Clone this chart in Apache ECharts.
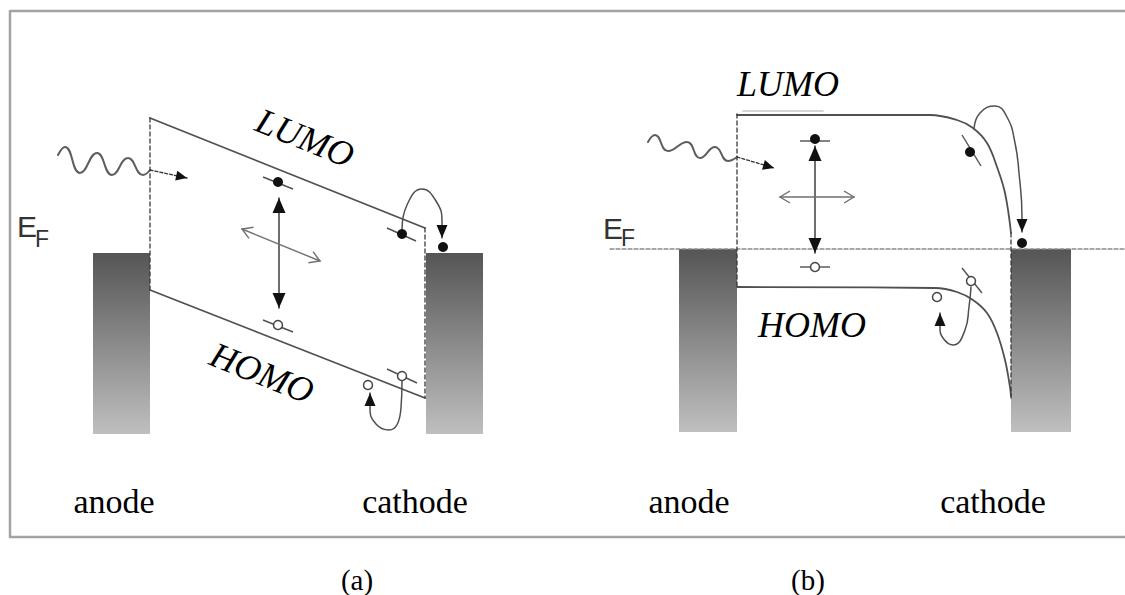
<!DOCTYPE html>
<html>
<head>
<meta charset="utf-8">
<script src="https://cdn.jsdelivr.net/npm/echarts@6/dist/echarts.min.js"></script>
<style>
  html, body { margin: 0; padding: 0; background: #fff; }
  #chart { width: 1125px; height: 595px; }
</style>
</head>
<body>
<div id="chart"></div>
<script>
// Energy-level diagrams of an organic photodiode:
// (a) straight tilted LUMO/HOMO levels, (b) flat levels bending down at the cathode.
// Diagram coordinates: x runs left to right across both panels, y runs top to bottom.

const frameEdge = [[1125, 11], [10, 11], [10, 537], [1125, 537]];

// electrode blocks: [left, top, right, bottom]
const electrodes = [
  [93, 253, 150, 434], [426, 253, 483, 434],
  [679, 249, 737, 432], [1011, 249, 1071, 432]
];

const lumoA = [[150, 118], [425, 228]];
const homoA = [[150, 290], [425, 398]];
const lumoB = [[737, 115], [930, 115], [957, 120], [973, 128], [987, 143], [997, 167], [1005, 193], [1011, 233]];
const homoB = [[737, 287], [935, 288], [957, 292], [973, 300], [987, 313], [997, 333], [1005, 360], [1010, 387], [1011, 396]];
const contactEdges = [
  [[150, 118], [150, 290]], [[425, 228], [425, 398]],
  [[737, 114], [737, 287]], [[1011, 233], [1011, 398]]
];
const fermiLevelB = [[610, 249], [1125, 249]];
const faintLevelB = [[743, 111], [823, 111]];

// incoming light
const photonA = [[58, 155], [65, 147], [80, 173], [97, 153], [112, 175], [128, 158], [143, 175], [150, 170]];
const photonB = [[648, 142], [655, 135], [668, 151], [687, 142], [700, 158], [715, 147], [728, 161], [737, 157]];
const photonTrails = [[[150, 170], [187, 178]], [[737, 157], [774, 168]]];

// exciton generation (vertical) and diffusion (sideways)
const excitationArrows = [[[279, 198], [279, 308]], [[815, 146], [815, 253]]];
const diffusionArrows = [[[242, 229], [320, 261]], [[780, 197], [854, 197]]];

// carrier hops towards the cathode
const electronLoops = [
  [[402, 229], [407, 205], [422, 189], [436, 201], [442, 222], [442, 238]],
  [[974, 129], [980, 113], [995, 106], [1007, 117], [1015, 143], [1019, 173], [1022, 218], [1022, 232]]
];
const holeLoops = [
  [[402, 381], [401, 408], [389, 430], [376, 424], [370, 408], [370, 393]],
  [[971, 287], [969, 307], [965, 330], [953, 345], [943, 338], [940, 327], [940, 313]]
];

const electrons = [[278, 182], [402, 234], [443, 247], [815, 139], [970, 152], [1022, 243]];
const holes = [[278, 325], [368, 385], [402, 376], [815, 267], [937, 297], [971, 281]];
const levelTicks = [
  [263, 177, 293, 189], [387, 228, 416, 241], [263, 320, 293, 332], [387, 369, 417, 383],
  [800, 141, 830, 141], [800, 267, 830, 267], [962, 135, 981, 166], [962, 268, 982, 293]
];

// text
const electrodeNames = [['anode', 114, 501], ['cathode', 415, 501], ['anode', 689, 501], ['cathode', 993, 501]];
const panelTags = [['(a)', 357, 580], ['(b)', 808, 580]];
const orbitalNames = [['LUMO', 305, 138, -22], ['HOMO', 262, 373, -22], ['LUMO', 788, 84, 0], ['HOMO', 812, 325, 0]];
const fermiMarks = [[27, 226], [613, 228]];
const fermiSubs = [[42, 239], [628, 238]];

// ---------- helpers ----------
function path(pts, color, width, opts) {
  opts = opts || {};
  return {
    type: 'line', data: pts, showSymbol: false, symbol: 'none', silent: true,
    smooth: opts.smooth || false, z: opts.z || 3, clip: false,
    lineStyle: { color: color, width: width, type: opts.dash || 'solid', cap: 'round', join: 'round', opacity: 1 }
  };
}

function heads(list, filled, len, half, color, z) {
  return {
    type: 'custom', coordinateSystem: 'cartesian2d', silent: true, z: z || 6,
    data: list.map(h => [h[0][0], h[0][1], h[1][0], h[1][1]]),
    encode: { x: [0, 2], y: [1, 3] },
    renderItem(params, api) {
      const tip = api.coord([api.value(0), api.value(1)]);
      const back = api.coord([api.value(2), api.value(3)]);
      const dx = tip[0] - back[0], dy = tip[1] - back[1];
      const d = Math.hypot(dx, dy) || 1;
      const ux = dx / d, uy = dy / d;
      const bx = tip[0] - ux * len, by = tip[1] - uy * len;
      const p1 = [bx - uy * half, by + ux * half];
      const p2 = [bx + uy * half, by - ux * half];
      if (filled) {
        return { type: 'polygon', shape: { points: [tip, p1, p2] }, style: { fill: color } };
      }
      return {
        type: 'polyline', shape: { points: [p1, tip, p2] },
        style: { fill: null, stroke: color, lineWidth: 1.4 }
      };
    }
  };
}

function textLayer(items, style, z) {
  return {
    type: 'scatter', symbolSize: 0, silent: true, z: z || 10,
    itemStyle: { opacity: 1 },
    data: items.map(t => ({
      name: t[0], value: [t[1], t[2]],
      label: t.length > 3 ? { rotate: t[3] } : {}
    })),
    label: Object.assign({
      show: true, position: 'inside', formatter: '{b}',
      textBorderWidth: 0, textBorderColor: 'transparent', textShadowBlur: 0
    }, style)
  };
}

// ---------- series ----------
const series = [];

series.push(path(frameEdge, '#a3a3a3', 2.5, { z: 1 }));

series.push({
  type: 'custom', coordinateSystem: 'cartesian2d', silent: true, z: 2,
  data: electrodes, encode: { x: [0, 2], y: [1, 3] },
  renderItem(params, api) {
    const a = api.coord([api.value(0), api.value(1)]);
    const b = api.coord([api.value(2), api.value(3)]);
    return {
      type: 'rect',
      shape: { x: a[0], y: a[1], width: b[0] - a[0], height: b[1] - a[1] },
      style: {
        fill: new echarts.graphic.LinearGradient(0, 0, 0, 1, [
          { offset: 0, color: '#555555' },
          { offset: 1, color: '#bfbfbf' }
        ])
      }
    };
  }
});

series.push(path(fermiLevelB, '#8c8c8c', 1.3, { dash: [4, 2] }));
series.push(path(faintLevelB, '#c8c8c8', 1.5));
series.push(path(lumoA, '#505050', 1.8));
series.push(path(homoA, '#505050', 1.8));
series.push(path(lumoB, '#505050', 1.8, { smooth: 0.4 }));
series.push(path(homoB, '#505050', 1.8, { smooth: 0.4 }));
contactEdges.forEach(e => series.push(path(e, '#3a3a3a', 1.3, { dash: [4, 3], z: 4 })));

series.push(path(photonA, '#5e5e5e', 2, { smooth: 0.5 }));
series.push(path(photonB, '#5e5e5e', 2, { smooth: 0.5 }));
photonTrails.forEach(t => series.push(path(t, '#333', 1.3, { dash: [3, 2] })));

excitationArrows.forEach(a => series.push(path(a, '#555', 1.7)));
diffusionArrows.forEach(a => series.push(path(a, '#707070', 1.4)));
electronLoops.forEach(l => series.push(path(l, '#505050', 1.5, { smooth: 0.5 })));
holeLoops.forEach(l => series.push(path(l, '#505050', 1.5, { smooth: 0.5 })));

// arrowheads
const bothEnds = [];
excitationArrows.forEach(a => { bothEnds.push([a[0], a[1]]); bothEnds.push([a[1], a[0]]); });
series.push(heads(bothEnds, true, 15, 6.5, '#111'));

const openEnds = [];
diffusionArrows.forEach(a => { openEnds.push([a[0], a[1]]); openEnds.push([a[1], a[0]]); });
series.push(heads(openEnds, false, 10, 6, '#707070'));

series.push(heads(photonTrails.map(t => [t[1], t[0]]), true, 11, 5, '#111'));

const loopEnds = electronLoops.concat(holeLoops).map(l => [l[l.length - 1], l[l.length - 2]]);
series.push(heads(loopEnds, true, 13, 5.5, '#111'));

// energy-level ticks under the carriers
series.push({
  type: 'custom', coordinateSystem: 'cartesian2d', silent: true, z: 5,
  data: levelTicks, encode: { x: [0, 2], y: [1, 3] },
  renderItem(params, api) {
    const a = api.coord([api.value(0), api.value(1)]);
    const b = api.coord([api.value(2), api.value(3)]);
    return {
      type: 'line', shape: { x1: a[0], y1: a[1], x2: b[0], y2: b[1] },
      style: { stroke: '#505050', lineWidth: 1.4 }
    };
  }
});

series.push({
  type: 'scatter', data: electrons, symbol: 'circle', symbolSize: 10, silent: true, z: 7,
  itemStyle: { color: '#111', opacity: 1 }
});
series.push({
  type: 'scatter', data: holes, symbol: 'circle', symbolSize: 9, silent: true, z: 7,
  itemStyle: { color: '#fff', borderColor: '#444', borderWidth: 1.5, opacity: 1 }
});

series.push(textLayer(electrodeNames, { fontFamily: 'Liberation Serif', fontSize: 34, color: '#000' }));
series.push(textLayer(panelTags, { fontFamily: 'Liberation Serif', fontSize: 29, color: '#000' }));
series.push(textLayer(orbitalNames, { fontFamily: 'Liberation Serif', fontStyle: 'italic', fontSize: 36, color: '#000' }));
series.push(textLayer(fermiMarks.map(p => ['E', p[0], p[1]]), { fontFamily: 'Liberation Sans', fontSize: 30, color: '#333' }));
series.push(textLayer(fermiSubs.map(p => ['F', p[0], p[1]]), { fontFamily: 'Liberation Sans', fontSize: 23, color: '#333' }));

const chart = echarts.init(document.getElementById('chart'), null, { renderer: 'svg' });
chart.setOption({
  animation: false,
  backgroundColor: '#fff',
  grid: { left: 0, right: 0, top: 0, bottom: 0 },
  xAxis: { type: 'value', min: 0, max: 1125, show: false },
  yAxis: { type: 'value', min: 0, max: 595, inverse: true, show: false },
  series: series
});
</script>
</body>
</html>
